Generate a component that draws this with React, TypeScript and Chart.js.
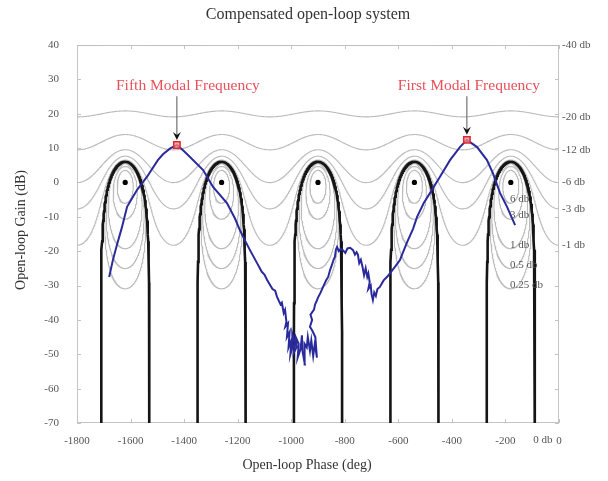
import React, { useEffect, useRef } from "react";
import { Chart, registerables } from "chart.js";
Chart.register(...registerables);

const chartTitle = "Compensated open-loop system";
const xTitle = "Open-loop Phase (deg)";
const yTitle = "Open-loop Gain (dB)";

// closed-loop magnitude levels of the Nichols grid (dB)
const closedLoopDb = [6, 3, 1, 0.5, 0.25, 0, -1, -3, -6, -12, -20, -40];
const gridPeriodCenters = [-1620, -1260, -900, -540, -180];

// critical points
const criticalPhases = [-1620, -1260, -900, -540, -180];
const criticalGains = [0, 0, 0, 0, 0];

// open-loop response (phase deg, gain dB)
const responsePhase = [
  -1680, -1666, -1651, -1632, -1613, -1576, -1539, -1498, -1479, -1452, -1427,
  -1402, -1378, -1329, -1292, -1240, -1210, -1191, -1172, -1154, -1128, -1110, -1100,
  -1090, -1070, -1060, -1053, -1040, -1035, -1028, -1023,
  -1018, -1022, -1012, -1016, -1006, -1010, -1000, -1003, -994, -996, -987, -990,
  -980, -983, -972, -976, -965, -960, -958, -949, -950, -942, -938, -930, -925,
  -918, -912, -904, -910, -922, -930, -922, -928, -915, -911, -905, -900, -890,
  -881, -870, -862, -855, -848, -842, -837, -833, -829, -822, -815, -807, -798,
  -790, -780, -769, -762, -756, -751, -746, -740, -734, -728, -722, -716, -712,
  -707, -712, -703, -700, -695, -690, -684, -678, -669, -655, -640, -631, -612,
  -594, -568, -545, -530, -505, -482, -445, -407, -370, -344, -306, -269, -247,
  -220, -194, -164,
];
const responseGain = [
  -27.5, -22.6, -18.2, -13, -7.1, -2.2, 1.6, 6.5, 8.2, 9.9, 10.9,
  9.2, 7.4, 3.6, -1.3, -6, -10.5, -14, -17, -19.7, -23.4, -26, -26.8,
  -28.4, -31, -31.5, -33.3, -35.5, -35, -38, -37.1,
  -40.5, -42, -41, -45, -43.5, -48, -46, -50, -47.5, -44, -46.5, -49.5,
  -48, -45, -47, -51, -48.5, -44.5, -49, -53, -47, -48, -45, -49, -46,
  -50.5, -47, -51, -45, -43, -42, -40, -38.5, -37, -35.5, -34.5, -33.5, -32,
  -30.4, -28.5, -27.5, -25.5, -24, -22.5, -21.7, -19.5, -18.8, -20, -19.3, -19.7, -20.5,
  -19.2, -19, -19.7, -21, -20.3, -21, -23.5, -22.5, -24.5, -27, -25, -27.5, -26.5,
  -29, -31, -30, -32.5, -34.2, -32, -33, -31, -30.4, -28.5, -27.3, -26.4, -24.5,
  -22.6, -17.5, -13.5, -10, -6, -3.1, 1.6, 6.5, 10.3, 12.4, 10.3, 6.5, 2.7,
  -3.1, -7.1, -12.4,
];

const modalPhase = [-1427, -344];
const modalGain = [10.9, 12.4];
const modalLabels = ["Fifth Modal Frequency", "First Modal Frequency"];

const SERIF = "'Liberation Serif', 'DejaVu Serif', serif";

type P = { x: number; y: number };
const deg = Math.PI / 180;

function openContour(mdb: number): P[] {
  const M = Math.pow(10, mdb / 20);
  const a = 1 - M * M;
  const pts: P[] = [];
  for (let p = -1800; p <= 0; p += 2) {
    const c = Math.cos(p * deg);
    const g = (M * M * c + Math.sqrt(M ** 4 * c * c + a * M * M)) / a;
    pts.push({ x: p, y: -20 * Math.log10(g) });
  }
  return pts;
}

function closedContour(mdb: number, center: number): P[] {
  const M = Math.pow(10, mdb / 20);
  const c = (-M * M) / (M * M - 1);
  const r = M / (M * M - 1);
  const pts: P[] = [];
  for (let t = 0; t <= 360; t += 2) {
    const re = c + r * Math.cos(t * deg);
    const im = r * Math.sin(t * deg);
    let ph = Math.atan2(im, re) / deg;
    if (ph > 0) ph -= 360;
    pts.push({ x: ph + (center + 180), y: -20 * Math.log10(Math.hypot(re, im)) });
  }
  return pts;
}

function unityContour(center: number): P[] {
  const ds: number[] = [];
  for (let d = 0; d <= 89; d += 1) ds.push(d);
  ds.push(89.5, 89.8, 89.9, 89.95, 89.98, 89.99, 89.995);
  const left: P[] = [];
  const right: P[] = [];
  for (const d of ds) {
    const h = 20 * Math.log10(2 * Math.cos(d * deg));
    left.push({ x: center - d, y: h });
    right.push({ x: center + d, y: h });
  }
  return left.reverse().concat(right);
}

const overlay = {
  id: "overlay",
  beforeDatasetsDraw(chart: any) {
    const { ctx, chartArea: a } = chart;
    ctx.save();
    ctx.strokeStyle = "#c4c4c4";
    ctx.lineWidth = 1;
    ctx.strokeRect(a.left + 0.5, a.top + 0.5, a.right - a.left - 1, a.bottom - a.top - 1);
    const xs = chart.scales.x;
    const ys = chart.scales.y;
    ctx.beginPath();
    for (let v = -1800; v <= 0; v += 200) {
      const px = Math.round(xs.getPixelForValue(v)) + 0.5;
      ctx.moveTo(px, a.bottom);
      ctx.lineTo(px, a.bottom - 4);
      ctx.moveTo(px, a.top);
      ctx.lineTo(px, a.top + 4);
    }
    for (let v = -70; v <= 40; v += 10) {
      const py = Math.round(ys.getPixelForValue(v)) + 0.5;
      ctx.moveTo(a.left, py);
      ctx.lineTo(a.left + 4, py);
      ctx.moveTo(a.right, py);
      ctx.lineTo(a.right - 4, py);
    }
    ctx.stroke();
    ctx.restore();
  },
  afterDatasetsDraw(chart: any) {
    const { ctx, chartArea: a } = chart;
    const xs = chart.scales.x;
    const ys = chart.scales.y;
    ctx.save();
    // titles
    ctx.fillStyle = "#333";
    ctx.textAlign = "center";
    ctx.textBaseline = "middle";
    ctx.font = `16px ${SERIF}`;
    ctx.fillText(chartTitle, 308, 15);
    ctx.font = `14px ${SERIF}`;
    ctx.fillText(xTitle, 307, 465);
    ctx.save();
    ctx.translate(21, 230);
    ctx.rotate(-Math.PI / 2);
    ctx.fillText(yTitle, 0, 0);
    ctx.restore();

    // grid labels
    ctx.font = `11px ${SERIF}`;
    ctx.fillStyle = "#555";
    ctx.textAlign = "left";
    for (const m of closedLoopDb) {
      const M = Math.pow(10, m / 20);
      if (m < 0) {
        const g = M / (1 - M);
        const h = -20 * Math.log10(g);
        ctx.textBaseline = "middle";
        ctx.fillText(`${m} db`, a.right + 3, ys.getPixelForValue(Math.min(h, 40)));
      } else if (m > 0) {
        const h = -20 * Math.log10(M / (M - 1));
        ctx.textBaseline = "alphabetic";
        ctx.fillText(`${m} db`, xs.getPixelForValue(-183), ys.getPixelForValue(h) - 1);
      } else {
        ctx.textBaseline = "middle";
        ctx.fillText(`${m} db`, xs.getPixelForValue(-96), a.bottom + 17);
      }
    }

    // modal annotations
    modalPhase.forEach((ph, i) => {
      const px = xs.getPixelForValue(ph);
      const py = ys.getPixelForValue(modalGain[i]);
      const ly = ys.getPixelForValue(28);
      ctx.font = `15.5px ${SERIF}`;
      ctx.fillStyle = "#e8505a";
      ctx.textAlign = "center";
      ctx.textBaseline = "middle";
      ctx.fillText(modalLabels[i], px + (i === 0 ? 11 : 2), ly);
      ctx.strokeStyle = "#555";
      ctx.lineWidth = 1;
      ctx.beginPath();
      ctx.moveTo(px, ly + 10);
      ctx.lineTo(px, py - 10);
      ctx.stroke();
      ctx.fillStyle = "#111";
      ctx.beginPath();
      ctx.moveTo(px, py - 5);
      ctx.lineTo(px - 4, py - 13);
      ctx.lineTo(px, py - 10);
      ctx.lineTo(px + 4, py - 13);
      ctx.closePath();
      ctx.fill();
    });
    ctx.restore();
  },
};

export default function App() {
  const ref = useRef<HTMLCanvasElement>(null);
  useEffect(() => {
    document.body.style.margin = "0";
    const datasets: any[] = [];
    for (const m of closedLoopDb) {
      if (m < 0) {
        datasets.push({ data: openContour(m), borderColor: "#bcbcbc", borderWidth: 1.1, order: 10 });
      } else if (m > 0) {
        for (const c of gridPeriodCenters)
          datasets.push({ data: closedContour(m, c), borderColor: "#bcbcbc", borderWidth: 1.1, order: 10 });
      } else {
        for (const c of gridPeriodCenters)
          datasets.push({ data: unityContour(c), borderColor: "#151515", borderWidth: 2.6, order: 8 });
      }
    }
    datasets.push({
      data: responsePhase.map((x, i) => ({ x, y: responseGain[i] })),
      borderColor: "#2a2a9c",
      borderWidth: 2,
      order: 5,
    });
    datasets.push({
      data: criticalPhases.map((x, i) => ({ x, y: criticalGains[i] })),
      showLine: false,
      pointRadius: 2.6,
      pointBackgroundColor: "#000",
      pointBorderWidth: 0,
      order: 2,
    });
    datasets.push({
      data: modalPhase.map((x, i) => ({ x, y: modalGain[i] })),
      showLine: false,
      pointStyle: "rect",
      pointRadius: 4.5,
      pointBackgroundColor: "rgba(255,140,140,0.75)",
      pointBorderColor: "#e02828",
      pointBorderWidth: 1.5,
      order: 1,
    });
    datasets.forEach((d) => {
      if (d.showLine === undefined) {
        d.showLine = true;
        d.pointRadius = 0;
        d.tension = 0;
      }
    });

    const chart = new Chart(ref.current!, {
      type: "scatter",
      data: { datasets },
      options: {
        animation: false,
        responsive: false,
        devicePixelRatio: 1,
        layout: { padding: { top: 45, right: 49, left: 0, bottom: 0 } },
        plugins: { legend: { display: false }, tooltip: { enabled: false }, title: { display: false } },
        scales: {
          x: {
            type: "linear",
            min: -1800,
            max: 0,
            grid: { display: false },
            border: { display: false },
            ticks: {
              stepSize: 200,
              padding: 4,
              color: "#555",
              font: { family: SERIF, size: 11 },
              maxRotation: 0,
              callback: (v: any) => String(v),
            },
            afterFit: (s: any) => {
              s.height = 58;
            },
          },
          y: {
            type: "linear",
            min: -70,
            max: 40,
            grid: { display: false },
            border: { display: false },
            ticks: {
              stepSize: 10,
              padding: 10,
              color: "#555",
              font: { family: SERIF, size: 11 },
              callback: (v: any) => String(v),
            },
            afterFit: (s: any) => {
              s.width = 77;
            },
          },
        },
      },
      plugins: [overlay],
    });
    return () => chart.destroy();
  }, []);
  return (
    <div style={{ width: 608, height: 481 }}>
      <canvas ref={ref} width={608} height={481} />
    </div>
  );
}
